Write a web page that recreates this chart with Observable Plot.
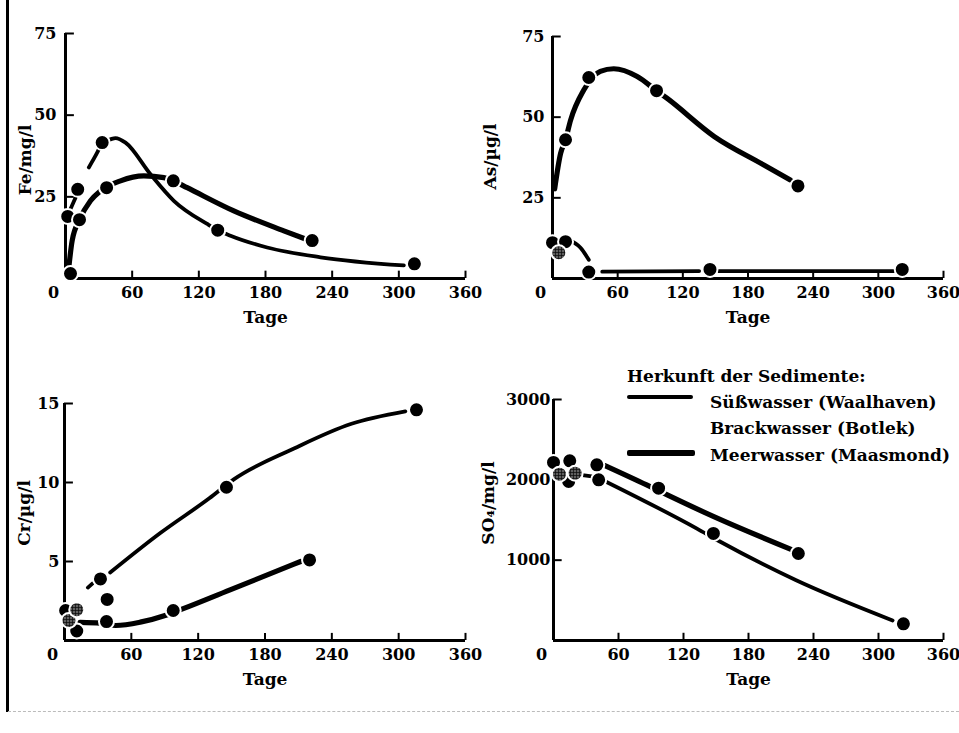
<!DOCTYPE html>
<html><head><meta charset="utf-8">
<script src="https://cdn.jsdelivr.net/npm/d3@7"></script>
<script src="https://cdn.jsdelivr.net/npm/@observablehq/plot@0.6"></script>
<style>
body{margin:0;background:#fff;}
#page{position:relative;width:959px;height:733px;overflow:hidden;background:#fff;font-family:"DejaVu Serif",serif;font-weight:bold;color:#000;}
.panel{position:absolute;}
.lg{position:absolute;font-size:17px;line-height:20px;white-space:nowrap;}
.lgline{position:absolute;background:#000;border-radius:2px;}
</style></head><body>
<svg width="0" height="0" style="position:absolute"><defs>
<pattern id="stip" width="3" height="3" patternUnits="userSpaceOnUse"><rect width="3" height="3" fill="#111"/><circle cx="1.5" cy="1.5" r="0.75" fill="#fff"/></pattern>
</defs></svg>
<div id="page"></div>
<script>
// ---------- data (days = Tage) ----------
const xTicks = [0, 60, 120, 180, 240, 300, 360];

// Fe / mg/l
const feTicks = [25, 50, 75];
const feSussDay = [2, 11, 33, 137, 314],   feSussVal = [19, 27.3, 41.6, 14.8, 4.5];
const feMeerDay = [4.5, 12.6, 37, 97, 222], feMeerVal = [1.5, 18, 27.8, 29.9, 11.6];
const feBrackDay = [], feBrackVal = [];
const feSussCurve = [[4.5,21.3],[9,24.7],null,[21,34],[28.5,38.5],[33,41.6],[40.5,42.6],[45,43],[54,41.6],[76.5,31.9],[97.5,23.8],[127.5,16.7],[137,14.8],[148.5,13.1],[181.5,9.5],[229.5,6.5],[304.5,4.0]];
const feMeerCurve = [[3,3.5],[6,11.6],[12.6,18],[22.5,23.8],[31.5,26.8],[49.5,29.9],[70.5,31.4],[88.5,30.9],[97,29.9],[109.5,27.8],[151.5,20.7],[196.5,14.6],[216,12.1]];

// As / µg/l
const asTicks = [25, 50, 75];
const asSussDay = [0, 12, 33.4, 145, 322], asSussVal = [11.1, 11.4, 2.0, 2.8, 2.8];
const asMeerDay = [12, 33.4, 95.8, 226],   asMeerVal = [43, 62.3, 58.2, 28.7];
const asBrackDay = [5.8], asBrackVal = [8];
const asSussCurve = [[15,11.9],[25.8,9.5],[33.4,5.8],null,[45.8,2.1],[135,2.3],null,[152,2.3],[320,2.3]];
const asMeerCurve = [[2,27.8],[7.4,38.7],[12,43],[16.6,49],[28.8,58.4],[44,64.2],[56.4,65],[78,62.6],[95.8,58.2],[105.6,55.8],[149,44],[194.6,35.2],[219,30.5]];

// Cr / µg/l
const crTicks = [5, 10, 15];
const crSussDay = [1, 32.3, 38.3, 145.4, 316], crSussVal = [1.9, 3.9, 2.6, 9.7, 14.6];
const crMeerDay = [11, 37.7, 97.6, 220],      crMeerVal = [0.6, 1.2, 1.9, 5.1];
const crBrackDay = [4, 11], crBrackVal = [1.27, 1.95];
const crSussCurve = [[21,3.35],[25,3.6],null,[41,4.3],[86,6.8],[130,9.0],[152,10.2],[206,12.15],[257,13.7],[306,14.5]];
const crMeerCurve = [[14,1.15],[32,1.1],[46,0.95],[68,1.16],[91,1.6],[106,2.0],[152,3.3],[212,5.0]];

// SO4 / mg/l
const soTicks = [1000, 2000, 3000];
const soSussDay = [0, 14, 41.7, 147.6, 323], soSussVal = [2217, 1980, 2000, 1333, 208];
const soMeerDay = [15, 40, 97, 226],         soMeerVal = [2237, 2187, 1896, 1083];
const soBrackDay = [5.5, 20], soBrackVal = [2070, 2083];
const soSussCurve = [[25,2062],[37,2041],null,[48,1980],[132,1396],[154,1229],[224,750],[313,250]];
const soMeerCurve = [[48,2175],[86,1937],[105,1812],[148,1542],[221,1125]];

const legendTitle = "Herkunft der Sedimente:";
const legendNames = ["Süßwasser (Waalhaven)", "Brackwasser (Botlek)", "Meerwasser (Maasmond)"];

// ---------- drawing ----------
const page = document.getElementById("page");
const X = d => d ? d[0] : undefined, Y = d => d ? d[1] : undefined;

function panel(c) {
  const yMax = c.yTicks[c.yTicks.length - 1];
  const plot = Plot.plot({
    width: c.width, height: c.height,
    marginLeft: c.mL, marginRight: c.mR, marginTop: c.mT, marginBottom: c.mB,
    x: {domain: [0, 360]},
    y: {domain: [0, yMax]},
    style: {fontFamily: "DejaVu Serif", fontWeight: "bold", fontSize: "16px", background: "transparent", overflow: "visible", color: "#000"},
    marks: [
      Plot.ruleY([0], {strokeWidth: 3}),
      Plot.ruleX([0], {strokeWidth: 3}),
      Plot.ruleX(xTicks.slice(1), {x: d => d, y1: 0, y2: yMax * 0.03, strokeWidth: 2}),
      Plot.ruleY(c.yTicks, {y: d => d, x1: 0, x2: 8, strokeWidth: 2}),
      Plot.axisX(xTicks.slice(1), {tickSize: 0, tickPadding: 8}),
      Plot.axisX([0], {tickSize: 0, tickPadding: 8, dx: -12}),
      Plot.axisY(c.yTicks, {tickSize: 0, tickPadding: c.yPad, tickFormat: d => String(d)}),
      Plot.text(["Tage"], {frameAnchor: "bottom", lineAnchor: "middle", dy: 39, fontSize: 17}),
      Plot.text([c.yLabel], {frameAnchor: "left", textAnchor: "middle", lineAnchor: "middle", rotate: -90, dx: c.yDx, dy: c.yDy, fontSize: 17}),
      Plot.line(c.sussCurve, {x: X, y: Y, curve: "monotone-x", stroke: "#000", strokeWidth: 3.8, strokeLinecap: "round"}),
      Plot.line(c.meerCurve, {x: X, y: Y, curve: "monotone-x", stroke: "#000", strokeWidth: 5.2, strokeLinecap: "round"}),
      Plot.dot(d3.zip(c.sussDay, c.sussVal).concat(d3.zip(c.meerDay, c.meerVal)), {x: X, y: Y, r: 7.5, fill: "#000", stroke: "#fff", strokeWidth: 2}),
      Plot.dot(d3.zip(c.brackDay, c.brackVal), {x: X, y: Y, r: 7.5, fill: "url(#stip)", stroke: "#fff", strokeWidth: 2})
    ]
  });
  plot.classList.add("panel");
  plot.style.left = c.left + "px";
  plot.style.top = c.top + "px";
  page.appendChild(plot);
}

panel({left: 0, top: 0, width: 480, height: 340, mL: 65, mR: 15, mT: 33, mB: 62,
  yTicks: feTicks, yPad: 9, yLabel: "Fe/mg/l", yDx: -40, yDy: 4,
  sussDay: feSussDay, sussVal: feSussVal, meerDay: feMeerDay, meerVal: feMeerVal, brackDay: feBrackDay, brackVal: feBrackVal,
  sussCurve: feSussCurve, meerCurve: feMeerCurve});
panel({left: 480, top: 0, width: 479, height: 340, mL: 72, mR: 16, mT: 36, mB: 62,
  yTicks: asTicks, yPad: 8, yLabel: "As/µg/l", yDx: -62, yDy: -1,
  sussDay: asSussDay, sussVal: asSussVal, meerDay: asMeerDay, meerVal: asMeerVal, brackDay: asBrackDay, brackVal: asBrackVal,
  sussCurve: asSussCurve, meerCurve: asMeerCurve});
panel({left: 0, top: 370, width: 480, height: 363, mL: 64, mR: 15, mT: 33, mB: 93,
  yTicks: crTicks, yPad: 5, yLabel: "Cr/µg/l", yDx: -40, yDy: -9,
  sussDay: crSussDay, sussVal: crSussVal, meerDay: crMeerDay, meerVal: crMeerVal, brackDay: crBrackDay, brackVal: crBrackVal,
  sussCurve: crSussCurve, meerCurve: crMeerCurve});
panel({left: 480, top: 370, width: 479, height: 363, mL: 73, mR: 16, mT: 29, mB: 93,
  yTicks: soTicks, yPad: 3, yLabel: "SO₄/mg/l", yDx: -65, yDy: -17,
  sussDay: soSussDay, sussVal: soSussVal, meerDay: soMeerDay, meerVal: soMeerVal, brackDay: soBrackDay, brackVal: soBrackVal,
  sussCurve: soSussCurve, meerCurve: soMeerCurve});

// legend (HTML)
function addText(txt, left, cy) {
  const d = document.createElement("div");
  d.className = "lg"; d.textContent = txt;
  d.style.left = left + "px"; d.style.top = (cy - 10) + "px";
  page.appendChild(d);
}
function addLine(left, w, cy, h) {
  const d = document.createElement("div");
  d.className = "lgline";
  d.style.left = left + "px"; d.style.width = w + "px";
  d.style.top = (cy - h / 2) + "px"; d.style.height = h + "px";
  page.appendChild(d);
}
addText(legendTitle, 627, 376);
addText(legendNames[0], 710, 402);
addText(legendNames[1], 710, 428);
addText(legendNames[2], 710, 455);
addLine(627, 66, 397, 3.5);
addLine(627, 68, 453, 5.5);

// page border of the scan
const border = document.createElement("div");
border.style.cssText = "position:absolute;left:6px;top:0;width:2.5px;height:712px;background:#000;";
page.appendChild(border);
const bottom = document.createElement("div");
bottom.style.cssText = "position:absolute;left:8px;top:711px;width:951px;height:0;border-top:1px dashed #bbb;";
page.appendChild(bottom);
</script>
</body></html>
